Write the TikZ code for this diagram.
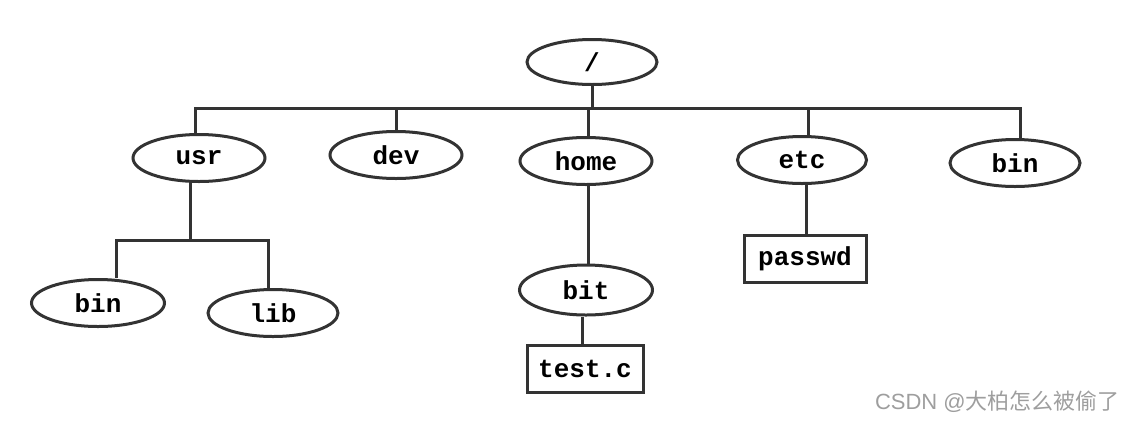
\documentclass[tikz,border=0pt]{standalone}
\usepackage{fontspec}
\setmonofont{Liberation Mono}
\newfontfamily\cjkfont{Noto Sans CJK SC}
\newfontfamily\wmfont{Liberation Sans}
\usetikzlibrary{shapes.geometric}
\begin{document}
\begin{tikzpicture}[x=1pt,y=-1pt,
  every node/.style={font=\ttfamily\bfseries\fontsize{26}{28}\selectfont, text=black},
  dir/.style={ellipse, draw=black!80, line width=3pt, minimum width=132pt, minimum height=47pt, inner sep=0pt},
  file/.style={rectangle, draw=black!80, line width=3pt, minimum height=47pt, inner sep=0pt},
  link/.style={draw=black!80, line width=3pt}]
\useasboundingbox (0,0) rectangle (1126,421);
\node[dir, minimum width=130pt, minimum height=45pt] (root) at (592,62) {/};
\node[dir] (usr) at (199,158) {usr};
\node[dir] (dev) at (396,155) {dev};
\node[dir] (home) at (586,161) {home};
\node[dir, minimum width=129pt] (etc) at (802,160) {etc};
\node[dir, minimum width=130pt] (bin) at (1015,163) {bin};
\node[dir, minimum width=133pt] (ubin) at (98,303) {bin};
\node[dir, minimum width=130pt] (lib) at (273,313) {lib};
\node[dir, minimum width=133pt, minimum height=50pt] (bit) at (586,290) {bit};
\node[file, minimum width=116pt] (test) at (585,369) {test.c};
\node[file, minimum width=122pt] (passwd) at (805,259) {passwd};
\coordinate (bus) at (0,108);
\coordinate (sbus) at (0,240);
\draw[link] (root.south) -- (root.south |- bus);
\draw[link] ([xshift=-4pt]usr.north) -- ([xshift=-4pt]usr.north |- bus) -- ([xshift=5pt]bin.north |- bus) -- ([xshift=5pt]bin.north);
\draw[link] (dev.north) -- (dev.north |- bus);
\draw[link] ([xshift=2pt]home.north) -- ([xshift=2pt]home.north |- bus);
\draw[link] ([xshift=6pt]etc.north) -- ([xshift=6pt]etc.north |- bus);
\draw[link] ([xshift=-9pt]usr.south) -- ([xshift=-9pt]usr.south |- sbus);
\draw[link] ([xshift=18pt]ubin.north) -- ([xshift=18pt]ubin.north |- sbus) -- ([xshift=-5pt]lib.north |- sbus) -- ([xshift=-5pt]lib.north);
\draw[link] ([xshift=2pt]home.south) -- ([xshift=2pt]bit.north);
\draw[link] ([xshift=-4pt]bit.south) -- ([xshift=-4pt]bit.south |- test.north);
\draw[link] ([xshift=4pt]etc.south) -- ([xshift=4pt]etc.south |- passwd.north);
\node[anchor=south east, inner sep=0pt, font=\fontsize{22}{24}\selectfont, text=black!38] (wm) at (1120,413) {\wmfont CSDN @\cjkfont 大柏怎么被偷了};
\end{tikzpicture}
\end{document}
